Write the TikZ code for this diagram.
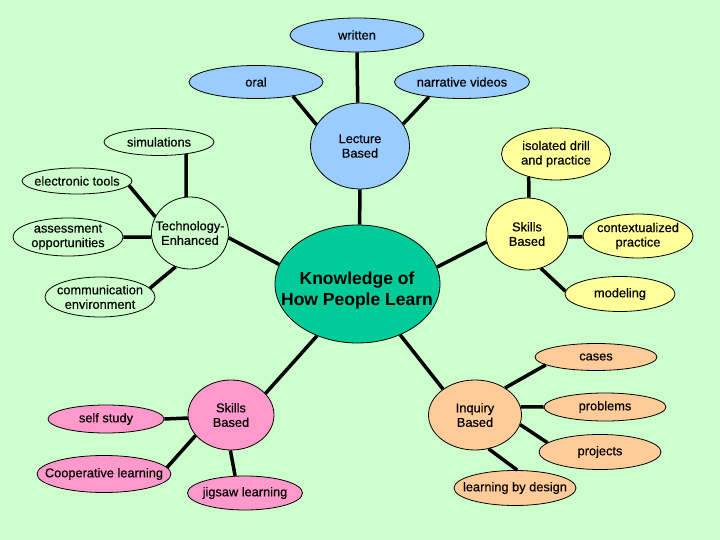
\documentclass[tikz,border=0pt]{standalone}
\usepackage{fontspec}
\setmainfont{Liberation Sans}
\newfontfamily\lblfont[FakeBold=0.4]{Liberation Sans}
\usetikzlibrary{shapes.geometric}
\definecolor{bg}{HTML}{CCFFCC}
\definecolor{lblue}{HTML}{99CCFF}
\definecolor{lyellow}{HTML}{FFFF99}
\definecolor{lpeach}{HTML}{FFCC99}
\definecolor{lpink}{HTML}{FF99CC}
\definecolor{cgreen}{HTML}{00CC99}
\newcommand\bubble[6]{%
  \node[bub,fill=#2,minimum width=#4pt,minimum height=#5pt] (#1) at (#3) {};
  \node[lbl] (#1-t) at (#1) {#6};}
\begin{document}
\begin{tikzpicture}[x=1pt,y=-1pt,
  bub/.style={ellipse,draw=black,line width=0.8pt,inner sep=0pt},
  lbl/.style={align=center,font=\lblfont\fontsize{12.8}{14.5}\selectfont,inner sep=0pt},
  link/.style={line width=3.5pt}]
\fill[bg] (0,0) rectangle (720,540);
\useasboundingbox (0,0) rectangle (720,540);

\bubble{written}{lblue}{357,35}{134}{34}{written}
\bubble{oral}{lblue}{256,82}{134}{33}{oral}
\bubble{narr}{lblue}{462,82}{135}{33}{narrative videos}
\bubble{lec}{lblue}{360,146}{99}{86}{Lecture\\Based}
\bubble{sim}{bg}{159,142}{110}{27}{simulations}
\bubble{elec}{bg}{77,181}{110}{26}{electronic tools}
\bubble{assess}{bg}{68,237}{110}{38}{assessment\\opportunities}
\bubble{tech}{bg}{190,233}{77}{72}{Technology-\\Enhanced}
\bubble{comm}{bg}{100,297}{110}{40}{communication\\environment}
\node[bub,fill=cgreen,minimum width=165pt,minimum height=118pt] (klearn) at (357.5,284) {};
\node[font=\bfseries\fontsize{17.5}{21}\selectfont,align=center,inner sep=0pt] (klearn-t) at (357,290) {Knowledge of\\How People Learn};
\bubble{skillsy}{lyellow}{527,234}{82}{72}{Skills\\Based}
\bubble{iso}{lyellow}{556,154}{109}{52}{isolated drill\\and practice}
\bubble{ctx}{lyellow}{638,236}{110}{44}{contextualized\\practice}
\bubble{model}{lyellow}{620,294}{110}{35}{modeling}
\bubble{inq}{lpeach}{475,415}{93}{70}{Inquiry\\Based}
\bubble{cases}{lpeach}{596,357}{122}{27}{cases}
\bubble{prob}{lpeach}{605,407}{122}{28}{problems}
\bubble{proj}{lpeach}{600,452}{122}{35}{projects}
\bubble{lbd}{lpeach}{515,488}{122}{35}{learning by design}
\bubble{skillsp}{lpink}{231,415}{86}{70}{Skills\\Based}
\bubble{self}{lpink}{106,419}{116}{28}{self study}
\bubble{coop}{lpink}{104,474}{134}{37}{Cooperative learning}
\bubble{jig}{lpink}{245,493}{115}{34}{jigsaw learning}

\draw[link] (written.-90) -- (lec.93);
\draw[link] (oral.-21) -- (lec.154);
\draw[link] (narr.-156) -- (lec.27);
\draw[link] (lec.-90) -- (klearn.88);
\draw[link] (sim.-24) -- (tech.96);
\draw[link] (elec.-5) -- (tech.155);
\draw[link] (assess.0) -- (tech.186);
\draw[link] (comm.10) -- (tech.247);
\draw[link] (tech.-7) -- (klearn.166);
\draw[link] (iso.220) -- (skillsy.87);
\draw[link] (skillsy.-4) -- (ctx.181);
\draw[link] (skillsy.-68) -- (model.177);
\draw[link] (skillsy.191) -- (klearn.12);
\draw[link] (klearn.-50) -- (inq.141);
\draw[link] (inq.42) -- (cases.189);
\draw[link] (inq.10) -- (prob.180);
\draw[link] (inq.-12) -- (proj.170);
\draw[link] (inq.-68) -- (lbd.83);
\draw[link] (klearn.232) -- (skillsp.32);
\draw[link] (self.0) -- (skillsp.184);
\draw[link] (coop.6) -- (skillsp.210);
\draw[link] (skillsp.-91) -- (jig.120);
\end{tikzpicture}
\end{document}
